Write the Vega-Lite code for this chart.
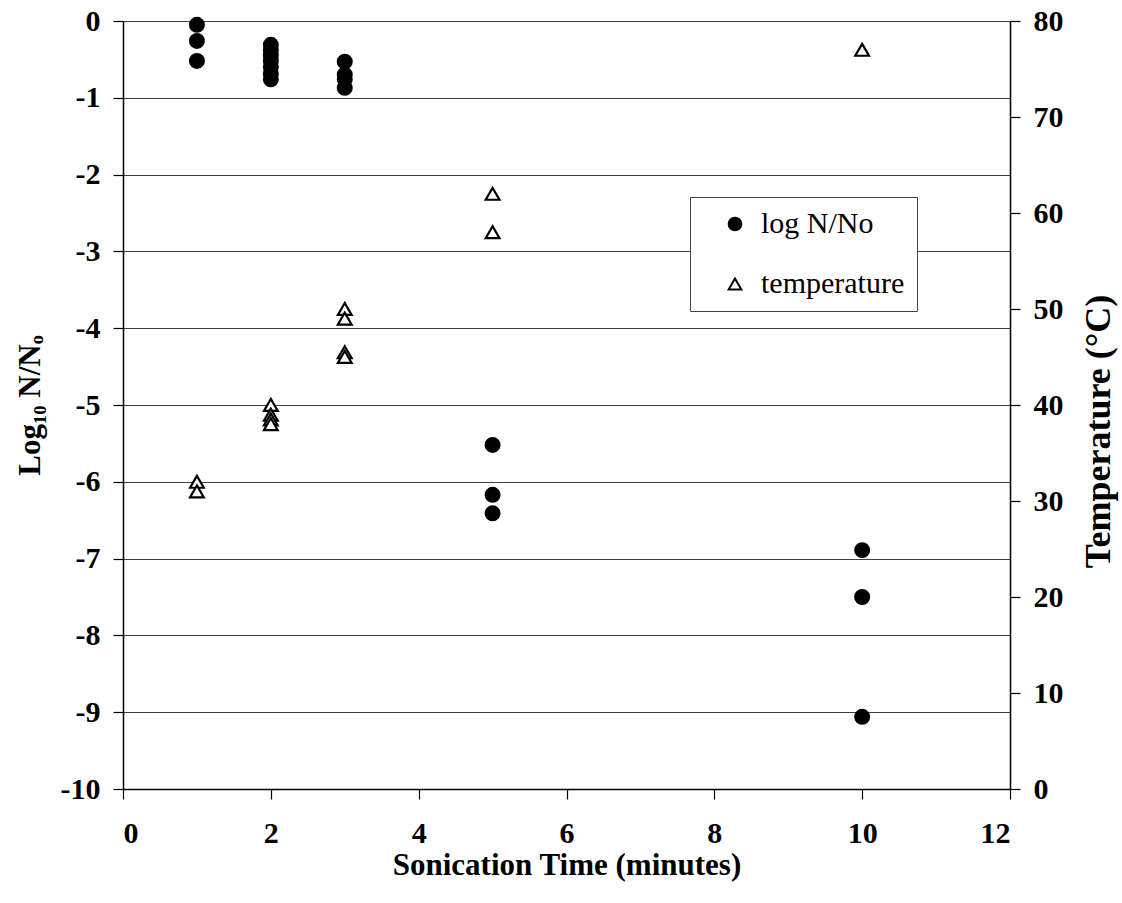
{
  "$schema": "https://vega.github.io/schema/vega-lite/v6.json",
  "width": 887,
  "height": 768,
  "autosize": "none",
  "padding": {"left": 123, "top": 21, "right": 112, "bottom": 114},
  "background": "white",
  "config": {
    "view": {"stroke": null},
    "font": "Liberation Serif",
    "axis": {
      "labelFont": "Liberation Serif",
      "labelFontWeight": "bold",
      "labelFontSize": 30,
      "labelColor": "black",
      "titleFont": "Liberation Serif",
      "titleFontWeight": "bold",
      "titleFontSize": 31,
      "titleColor": "black",
      "domainColor": "black",
      "domainWidth": 1.5,
      "tickColor": "black",
      "tickWidth": 1.2,
      "tickSize": 10
    }
  },
  "data": {
    "values": [
      {"series": "log N/No", "time": 1, "value": -0.05},
      {"series": "log N/No", "time": 1, "value": -0.26},
      {"series": "log N/No", "time": 1, "value": -0.52},
      {"series": "log N/No", "time": 2, "value": -0.31},
      {"series": "log N/No", "time": 2, "value": -0.38},
      {"series": "log N/No", "time": 2, "value": -0.45},
      {"series": "log N/No", "time": 2, "value": -0.52},
      {"series": "log N/No", "time": 2, "value": -0.6},
      {"series": "log N/No", "time": 2, "value": -0.69},
      {"series": "log N/No", "time": 2, "value": -0.76},
      {"series": "log N/No", "time": 3, "value": -0.53},
      {"series": "log N/No", "time": 3, "value": -0.7},
      {"series": "log N/No", "time": 3, "value": -0.76},
      {"series": "log N/No", "time": 3, "value": -0.87},
      {"series": "log N/No", "time": 5, "value": -5.52},
      {"series": "log N/No", "time": 5, "value": -6.17},
      {"series": "log N/No", "time": 5, "value": -6.41},
      {"series": "log N/No", "time": 10, "value": -6.89},
      {"series": "log N/No", "time": 10, "value": -7.5},
      {"series": "log N/No", "time": 10, "value": -9.06},
      {"series": "temperature", "time": 1, "value": 32},
      {"series": "temperature", "time": 1, "value": 31},
      {"series": "temperature", "time": 2, "value": 40},
      {"series": "temperature", "time": 2, "value": 39},
      {"series": "temperature", "time": 2, "value": 38.5},
      {"series": "temperature", "time": 2, "value": 38},
      {"series": "temperature", "time": 3, "value": 50},
      {"series": "temperature", "time": 3, "value": 49},
      {"series": "temperature", "time": 3, "value": 45.5},
      {"series": "temperature", "time": 3, "value": 45},
      {"series": "temperature", "time": 5, "value": 62},
      {"series": "temperature", "time": 5, "value": 58},
      {"series": "temperature", "time": 10, "value": 77}
    ]
  },
  "encoding": {
    "x": {
      "field": "time",
      "type": "quantitative",
      "scale": {"domain": [0, 12], "nice": false, "zero": false},
      "axis": {
        "values": [0, 2, 4, 6, 8, 10, 12],
        "grid": false,
        "labelPadding": 19,
        "title": "Sonication Time (minutes)",
        "titleBaseline": "alphabetic",
        "titleY": 85,
        "titleX": 443.5
      }
    },
    "shape": {
      "field": "series",
      "type": "nominal",
      "scale": {"domain": ["log N/No", "temperature"], "range": ["circle", "triangle-up"]},
      "legend": {
        "title": null,
        "orient": "none",
        "legendX": 567,
        "legendY": 176,
        "direction": "vertical",
        "strokeColor": "#444444",
        "fillColor": "white",
        "padding": 12,
        "rowPadding": 30,
        "symbolOffset": 18,
        "symbolSize": 160,
        "symbolStrokeColor": "black",
        "symbolStrokeWidth": 2,
        "labelOffset": 11,
        "labelFont": "Liberation Serif",
        "labelFontSize": 30,
        "labelColor": "black",
        "labelLimit": 300
      }
    },
    "fill": {
      "field": "series",
      "type": "nominal",
      "scale": {"domain": ["log N/No", "temperature"], "range": ["black", "white"]}
    },
    "stroke": {
      "field": "series",
      "type": "nominal",
      "scale": {"domain": ["log N/No", "temperature"], "range": ["black", "black"]}
    }
  },
  "layer": [
    {
      "transform": [{"filter": "datum.series === 'log N/No'"}],
      "mark": {"type": "point", "filled": true, "size": 196, "opacity": 1, "strokeWidth": 2},
      "encoding": {
        "y": {
          "field": "value",
          "type": "quantitative",
          "scale": {"domain": [-10, 0], "nice": false, "zero": false},
          "axis": {
            "orient": "left",
            "values": [-10, -9, -8, -7, -6, -5, -4, -3, -2, -1, 0],
            "labelExpr": "replace(datum.label, '−', '-')",
            "grid": true,
            "gridColor": "#404040",
            "gridWidth": 1.2,
            "gridOpacity": 1,
            "labelPadding": 13,
            "title": "Log₁₀ N/Nₒ",
            "titleAngle": 270,
            "titleAlign": "center",
            "titleBaseline": "middle",
            "titleX": -93,
            "titleY": 384
          }
        }
      }
    },
    {
      "transform": [{"filter": "datum.series === 'temperature'"}],
      "mark": {"type": "point", "filled": true, "size": 190, "opacity": 1, "strokeWidth": 2.2},
      "encoding": {
        "y": {
          "field": "value",
          "type": "quantitative",
          "scale": {"domain": [0, 80], "nice": false, "zero": false},
          "axis": {
            "orient": "right",
            "values": [0, 10, 20, 30, 40, 50, 60, 70, 80],
            "grid": false,
            "labelPadding": 13,
            "title": "Temperature (°C)",
            "titleFontSize": 36,
            "titleAngle": 270,
            "titleAlign": "center",
            "titleBaseline": "middle",
            "titleX": 88,
            "titleY": 410
          }
        }
      }
    }
  ],
  "resolve": {"scale": {"y": "independent"}}
}
